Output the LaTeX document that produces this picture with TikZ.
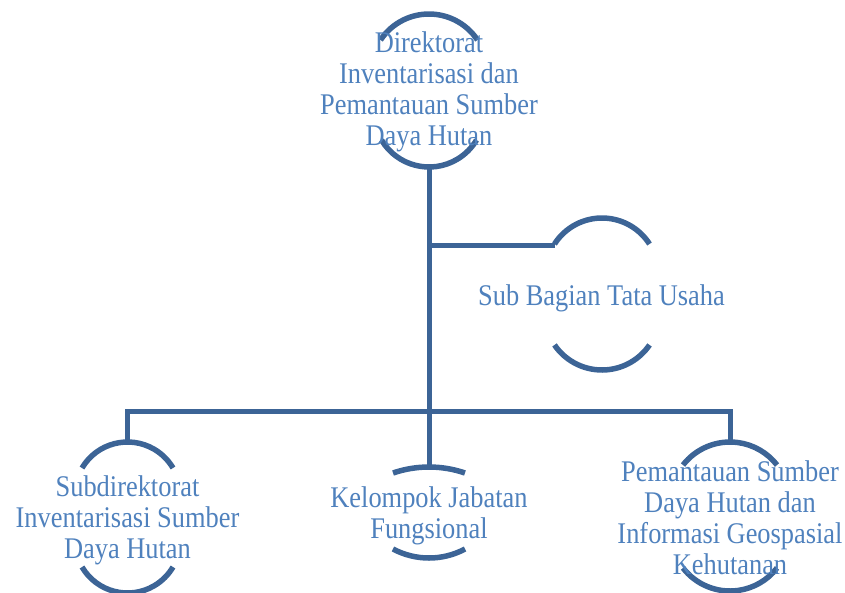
\documentclass[tikz,border=0pt]{standalone}
\usepackage{fontspec}
\setmainfont{Liberation Serif}[FakeStretch=0.88]
\definecolor{linec}{RGB}{60,100,150}
\definecolor{textc}{RGB}{79,129,189}
\begin{document}
\begin{tikzpicture}[x=1pt,y=1pt,
  lbl/.style={text=textc, align=center, inner sep=0pt, font=\fontsize{30}{31}\selectfont},
  conn/.style={draw=linec, line width=5pt},
  arcline/.style={draw=linec, line width=5.5pt}]
\useasboundingbox (0,0) rectangle (845,-592);
% arc centres
\coordinate (dirTc) at (429,-72.2);
\coordinate (dirBc) at (429,-111.7);
\coordinate (sbTc) at (602,-274.4);
\coordinate (sbBc) at (602,-312.4);
\coordinate (sdTc) at (127.5,-494.8);
\coordinate (sdBc) at (127.5,-540.2);
\coordinate (kjTc) at (429,-578);
\coordinate (kjBc) at (429,-481.5);
\coordinate (pmTc) at (730,-501.5);
\coordinate (pmBc) at (730,-531.5);
% arcs
\draw[arcline] (dirTc) ++(146.4:58.2pt) arc[start angle=146.4, end angle=33.6, radius=58.2pt];
\draw[arcline] (dirBc) ++(210.8:55.3pt) arc[start angle=210.8, end angle=329.2, radius=55.3pt];
\draw[arcline] (sbTc) ++(147.4:56.4pt) arc[start angle=147.4, end angle=32.6, radius=56.4pt];
\draw[arcline] (sbBc) ++(214.4:57.6pt) arc[start angle=214.4, end angle=325.6, radius=57.6pt];
\draw[arcline] (sdTc) ++(149.5:52.8pt) arc[start angle=149.5, end angle=30.5, radius=52.8pt];
\draw[arcline] (sdBc) ++(210.5:52.8pt) arc[start angle=210.5, end angle=329.5, radius=52.8pt];
\draw[arcline] (kjTc) ++(108.9:111pt) arc[start angle=108.9, end angle=71.1, radius=111pt];
\draw[arcline] (kjBc) ++(241.9:76.5pt) arc[start angle=241.9, end angle=298.1, radius=76.5pt];
\draw[arcline] (pmTc) ++(142.2:59.5pt) arc[start angle=142.2, end angle=37.8, radius=59.5pt];
\draw[arcline] (pmBc) ++(217.8:59.5pt) arc[start angle=217.8, end angle=322.2, radius=59.5pt];
% connector end points
\coordinate (dirB) at (429,-167);
\coordinate (kjT) at (429,-467);
\coordinate (br) at (429,-245);
\coordinate (sbL) at (554.5,-245);
\coordinate (sdT) at (127.5,-442);
\coordinate (pmT) at (730,-442);
\coordinate (busL) at (127.5,-411);
\coordinate (busR) at (730,-411);
% connectors
\draw[conn] (dirB) -- (kjT);
\draw[conn] (br) -- (sbL);
\draw[conn] (sdT) -- (busL) -- (busR) -- (pmT);
% texts
\node[lbl] (dir) at (429,-92.3) {Direktorat\\Inventarisasi dan\\Pemantauan Sumber\\Daya Hutan};
\node[lbl, anchor=base] (sb) at (601.5,-305) {Sub Bagian Tata Usaha};
\node[lbl] (sd) at (127.5,-520) {Subdirektorat\\Inventarisasi Sumber\\Daya Hutan};
\node[lbl] (kj) at (429,-515.5) {Kelompok Jabatan\\Fungsional};
\node[lbl] (pm) at (730,-517.5) {Pemantauan Sumber\\Daya Hutan dan\\Informasi Geospasial\\Kehutanan};
\end{tikzpicture}
\end{document}
